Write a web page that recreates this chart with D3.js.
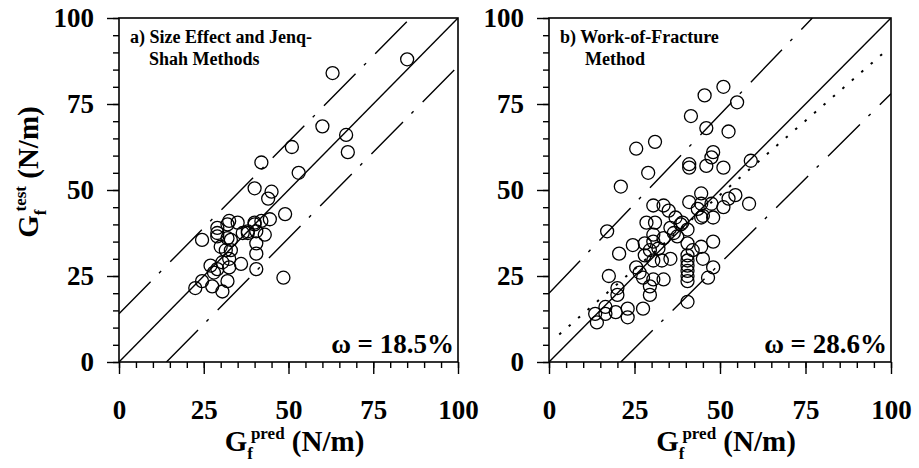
<!DOCTYPE html>
<html>
<head>
<meta charset="utf-8">
<script src="https://cdn.jsdelivr.net/npm/d3@7"></script>
<style>
  body { margin: 0; background: #fff; }
  svg text { font-family: "Liberation Serif", "Times New Roman", Times; font-weight: bold; fill: #000; }
</style>
</head>
<body>
<svg width="919" height="468"></svg>
<script>
"use strict"

var serif = '"Liberation Serif", "Times New Roman", Times';

// tick values shared by both panels
var tickValues = [0, 25, 50, 75, 100];

// a) size effect and Jenq-Shah: [G_pred, G_test]
var pointsA = [
    [85, 88], [63, 84], [60, 68.5], [67, 66], [67.5, 61], [51, 62.5], [42, 58], [53, 55],
    [40, 50.5], [45, 49.5], [44, 47.5], [49, 43], [48.5, 24.5], [24.5, 35.5], [22.5, 21.5],
    [24.5, 23.5], [27.5, 22], [30.5, 20.5], [32, 23.5], [28, 26], [27, 28], [29, 27],
    [32.5, 27.5], [36, 28.5], [40.5, 27], [40.5, 31.5], [40.5, 34.5], [40.5, 38], [43, 37],
    [44.5, 41.5], [42, 41], [40, 40.5], [38, 38], [35, 40.5], [32.5, 41], [29, 39], [29, 36.5],
    [32, 36], [33, 35.5], [30, 33.5], [31.5, 32.5], [33, 32.5], [30.5, 29], [32.5, 30],
    [36.5, 37.5], [38, 37.5], [40, 40], [29, 37.5], [32, 40]
];

// b) work-of-fracture: [G_pred, G_test]
var pointsB = [
    [51, 80], [45.5, 77.5], [55, 75.5], [41.5, 71.5], [46, 68], [52.5, 67], [31, 64], [25.5, 62],
    [48, 61], [47.5, 59.5], [59, 58.5], [41, 57.5], [46, 57], [51, 56.5], [41, 56.5], [29, 55],
    [21, 51], [44.5, 49], [54.5, 48.5], [52.5, 47.5], [58.5, 46], [41, 46.5], [30.5, 45.5],
    [33.5, 45.5], [44.5, 46], [47.5, 46], [51, 45], [35, 44], [43.5, 44.5], [45, 42.5], [48, 42],
    [44.5, 42], [37, 42], [28.5, 40.5], [31, 40.5], [39, 40.5], [38.5, 40], [35.5, 39], [40.5, 38.5],
    [36.5, 37.5], [37.5, 36.5], [17, 38], [30.5, 37], [33.5, 36], [24.5, 34], [28, 34.5], [30.5, 35],
    [40.5, 34.5], [48, 35], [44.5, 33.5], [29.5, 32.5], [32, 33], [42, 32.5], [20.5, 31.5],
    [40.5, 31], [28, 31], [35.5, 30], [33, 29.5], [30.5, 29.5], [40.5, 29.5], [45, 30], [40.5, 28],
    [48, 27.5], [25.5, 27.5], [40.5, 26.5], [26.5, 26], [17.5, 25], [40.5, 25], [46.5, 24.5],
    [27.5, 24.5], [30.5, 24], [33.5, 24], [40.5, 23.5], [29.5, 22], [20, 21.5], [20, 19.5],
    [29.5, 19.5], [40.5, 17.5], [13.5, 14], [16.5, 14], [19.5, 14.5], [23, 15.5], [27.5, 15.5],
    [23, 13], [14, 11.5], [16.5, 16]
];

// reference lines [[x1,y1],[x2,y2]] in data units
var linesA = [
    {pts: [[0, 0], [100, 100]], dash: null},
    {pts: [[0, 14], [86, 100]], dash: "45,12,3,13"},
    {pts: [[14, 0], [100, 86]], dash: "45,12,3,13"}
];
var linesB = [
    {pts: [[0, 0], [100, 100]], dash: null},
    {pts: [[0, 20], [77, 100]], dash: "45,12,3,13"},
    {pts: [[21, 0], [100, 78]], dash: "45,12,3,13"},
    {pts: [[3, 8], [98, 90]], dash: "2.5,10"}
];

var svg = d3.select("svg");

var draw_panel = function(opts) {
    var x = d3.scaleLinear().domain([0, 100]).range([opts.left, opts.right]),
        y = d3.scaleLinear().domain([0, 100]).range([362, 18]);
    var g = svg.append("g");

    // frame
    g.append("rect")
        .attr("x", opts.left).attr("y", 18)
        .attr("width", opts.right - opts.left).attr("height", 344)
        .attr("fill", "none").attr("stroke", "#000").attr("stroke-width", 1.6);

    // minor ticks
    var minor = d3.range(0, 101, 5);
    var xMinor = d3.axisBottom(x).tickValues(minor).tickSize(6).tickFormat("");
    var yMinor = d3.axisLeft(y).tickValues(minor).tickSize(6).tickFormat("");
    // major ticks
    var xMajor = d3.axisBottom(x).tickValues(tickValues).tickSize(12).tickPadding(26).tickFormat(d3.format("d"));
    var yMajor = d3.axisLeft(y).tickValues(tickValues).tickSize(12).tickPadding(13).tickFormat(d3.format("d"));

    [xMinor, xMajor].forEach(function(ax) {
        g.append("g").attr("transform", "translate(0,362)").call(ax);
    });
    [yMinor, yMajor].forEach(function(ax) {
        g.append("g").attr("transform", "translate(" + opts.left + ",0)").call(ax);
    });
    g.selectAll(".domain").remove();
    g.selectAll(".tick line").attr("stroke", "#000").attr("stroke-width", 1.4);
    g.selectAll(".tick text")
        .attr("font-family", serif)
        .style("font-family", serif)
        .style("font-weight", "bold")
        .style("font-size", "27px")
        .attr("fill", "#000");

    // reference lines
    var clip = "clip" + opts.id;
    g.append("clipPath").attr("id", clip).append("rect")
        .attr("x", opts.left).attr("y", 18)
        .attr("width", opts.right - opts.left).attr("height", 344);
    var line = d3.line().x(function(d) { return x(d[0]); }).y(function(d) { return y(d[1]); });
    g.selectAll(".ref").data(opts.lines).enter().append("path")
        .attr("d", function(d) { return line(d.pts); })
        .attr("fill", "none").attr("stroke", "#000")
        .attr("stroke-width", function(d) { return d.dash === "2.5,10" ? 2 : 1.4; })
        .attr("stroke-dasharray", function(d) { return d.dash; })
        .attr("clip-path", "url(#" + clip + ")");

    // points
    g.selectAll(".pt").data(opts.points).enter().append("circle")
        .attr("cx", function(d) { return x(d[0]); })
        .attr("cy", function(d) { return y(d[1]); })
        .attr("r", 6.5)
        .attr("fill", "none").attr("stroke", "#000").attr("stroke-width", 1.3);

    // panel label
    var lab = g.append("text").style("font-family", serif).style("font-size", "18px");
    lab.append("tspan").attr("x", opts.left + 11).attr("y", 43).text(opts.title[0]);
    lab.append("tspan").attr("x", opts.left + opts.indent).attr("y", 65).text(opts.title[1]);

    // omega
    g.append("text")
        .attr("x", opts.right - 4).attr("y", 353)
        .attr("text-anchor", "end")
        .style("font-family", serif)
        .style("font-size", "27px")
        .text("\u03c9 = " + opts.omega);

    // x axis title
    var xt = g.append("text")
        .attr("x", (opts.left + opts.right) / 2 + 6).attr("y", 451)
        .attr("text-anchor", "middle")
        .style("font-family", serif)
        .style("font-size", "29px");
    xt.append("tspan").text("G");
    xt.append("tspan").attr("dy", 8).style("font-size", "17px").text("f");
    xt.append("tspan").attr("dy", -20).attr("dx", -2).style("font-size", "17px").text("pred");
    xt.append("tspan").attr("dy", 12).text(" (N/m)");
};

draw_panel({id: "a", left: 119, right: 458, points: pointsA, lines: linesA,
    title: ["a) Size Effect and Jenq-", "Shah Methods"], indent: 30, omega: "18.5%"});
draw_panel({id: "b", left: 549, right: 891, points: pointsB, lines: linesB,
    title: ["b) Work-of-Fracture", "Method"], indent: 36, omega: "28.6%"});

// y axis title (left panel only)
var yt = svg.append("text")
    .attr("transform", "translate(38,172) rotate(-90)")
    .attr("text-anchor", "middle")
    .style("font-family", serif)
    .style("font-size", "29px");
yt.append("tspan").text("G");
yt.append("tspan").attr("dy", 8).style("font-size", "17px").text("f");
yt.append("tspan").attr("dy", -20).attr("dx", -2).style("font-size", "17px").text("test");
yt.append("tspan").attr("dy", 12).text(" (N/m)");
</script>
</body>
</html>
